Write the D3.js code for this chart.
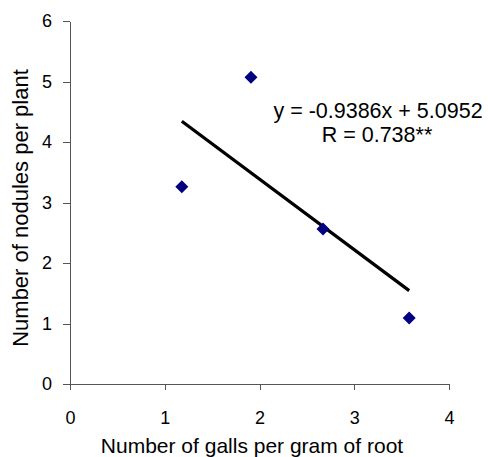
<!DOCTYPE html>
<html lang="en">
<head>
    <meta charset="UTF-8">
    <script src="https://d3js.org/d3.v7.min.js"></script>
    <title>Galls vs nodules</title>
    <style>
        body{ margin: 0; background: #fff; }
        text{ font-family: "Liberation Sans", Arial, sans-serif; fill: #000; }
        .axis path, .axis line{ stroke: #555; stroke-width: 1px; shape-rendering: crispEdges; }
        .axis text{ font-size: 18px; }
        .trend{ fill: none; stroke: #000; stroke-width: 3.2px; }
    </style>
</head>
<body>
    <div id="chart"></div>
<script>
    // data
    var galls = [1.18, 1.91, 2.67, 3.58];
    var nodules = [3.26, 5.07, 2.56, 1.09];
    var xTicks = [0, 1, 2, 3, 4];
    var yTicks = [0, 1, 2, 3, 4, 5, 6];
    var equationText = "y = -0.9386x + 5.0952";
    var rText = "R = 0.738**";

    var W = 488, H = 457;
    var margin = {top: 21, right: 39, bottom: 73, left: 70},
        width = W - margin.left - margin.right,
        height = H - margin.top - margin.bottom;

    var svg = d3.select("#chart").append("svg")
                .attr("width", W).attr("height", H);
    var g = svg.append("g").attr("transform", "translate(" + margin.left + "," + margin.top + ")");

    var x = d3.scaleLinear().domain([0, 4]).range([0, width]);
    var y = d3.scaleLinear().domain([0, 6]).range([height, 0]);

    // axes
    g.append("g").attr("class", "axis")
        .attr("transform", "translate(0," + height + ")")
        .call(d3.axisBottom(x).tickValues(xTicks).tickSize(6).tickPadding(21).tickSizeOuter(0).tickFormat(d3.format("d")));
    g.append("g").attr("class", "axis")
        .call(d3.axisLeft(y).tickValues(yTicks).tickSize(7).tickPadding(11).tickSizeOuter(0).tickFormat(d3.format("d")));
    g.selectAll(".axis text").attr("font-family", null).attr("font-size", null);

    // least squares trend line
    var mx = d3.mean(galls), my = d3.mean(nodules);
    var sxy = d3.sum(galls, function(v, i){ return (v - mx) * (nodules[i] - my); });
    var sxx = d3.sum(galls, function(v){ return (v - mx) * (v - mx); });
    var slope = sxy / sxx, icpt = my - slope * mx;
    var ext = d3.extent(galls);
    g.append("path").attr("class", "trend")
        .datum(ext.map(function(v){ return [v, icpt + slope * v]; }))
        .attr("d", d3.line().x(function(d){ return x(d[0]); }).y(function(d){ return y(d[1]); }));

    // points
    var pts = galls.map(function(v, i){ return [v, nodules[i]]; });
    g.selectAll(".pt").data(pts).enter().append("path")
        .attr("class", "pt")
        .attr("transform", function(d){ return "translate(" + x(d[0]) + "," + y(d[1]) + ")"; })
        .attr("d", "M0,-6.5L6.5,0L0,6.5L-6.5,0Z")
        .attr("fill", "#000080");

    // equation labels
    svg.append("text").attr("x", 378).attr("y", 117.5).attr("text-anchor", "middle")
        .style("font-size", "21.5px").text(equationText);
    svg.append("text").attr("x", 377).attr("y", 142).attr("text-anchor", "middle")
        .style("font-size", "21.5px").text(rText);

    // axis titles
    svg.append("text").attr("x", 252).attr("y", 453).attr("text-anchor", "middle")
        .style("font-size", "21px").text("Number of galls per gram of root");
    svg.append("text").attr("transform", "translate(28,208) rotate(-90)").attr("text-anchor", "middle")
        .style("font-size", "22px").text("Number of nodules per plant");
</script>
</body>
</html>
